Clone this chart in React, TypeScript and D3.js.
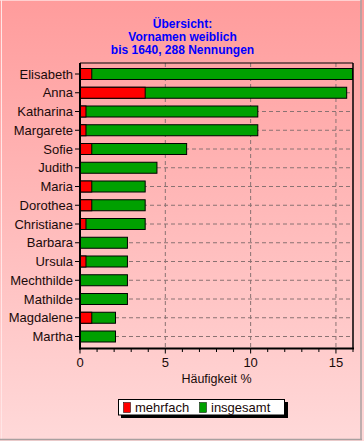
import React from "react";
import * as d3 from "d3";

const names = ["Elisabeth", "Anna", "Katharina", "Margarete", "Sofie", "Judith", "Maria", "Dorothea", "Christiane", "Barbara", "Ursula", "Mechthilde", "Mathilde", "Magdalene", "Martha"];
const insgesamt = [15.97, 15.63, 10.42, 10.42, 6.25, 4.51, 3.82, 3.82, 3.82, 2.78, 2.78, 2.78, 2.78, 2.08, 2.08];
const mehrfach = [0.69, 3.82, 0.35, 0.35, 0.69, 0, 0.69, 0.69, 0.35, 0, 0.35, 0, 0, 0.69, 0];
const majorTicks = [0, 5, 10, 15];
const minorTicks = d3.range(0, 17, 1);
const titleLines = ["Übersicht:", "Vornamen weiblich", "bis 1640, 288 Nennungen"];
const xTitle = "Häufigkeit %";
const legendItems = [{ label: "mehrfach", color: "#ff0000" }, { label: "insgesamt", color: "#00a000" }];

const W = 364, H = 441;
const L = 80, R = 353, T = 63, B = 348.5;
const FONT = "'Liberation Sans', Arial, sans-serif";

export default function App() {
  const x = d3.scaleLinear().domain([0, 16]).range([L, R]);
  const y = d3.scalePoint<string>().domain(names).range([74, 336.5]);
  const bh = 11;
  return (
    <div style={{ position: "absolute", left: 0, top: 0 }}>
      <svg width={W} height={H} style={{ display: "block" }}>
        <defs>
          <linearGradient id="bg" x1="0" y1="0" x2="0" y2="1">
            <stop offset="0" stopColor="#ff9c9c" />
            <stop offset="1" stopColor="#ffd9d9" />
          </linearGradient>
        </defs>
        <rect x={0} y={0} width={W} height={H} fill="url(#bg)" />
        <line x1={0} y1={0.5} x2={361} y2={0.5} stroke="#ffd0d0" />
        <line x1={1.5} y1={0} x2={1.5} y2={439} stroke="#ffe6e6" />
        <line x1={361} y1={0} x2={361} y2={440} stroke="#a8a0a0" strokeWidth={1.5} />
        <line x1={0} y1={439.5} x2={362} y2={439.5} stroke="#a8a0a0" strokeWidth={1.5} />

        {titleLines.map((t, i) => (
          <text key={t} x={182.5} y={28 + i * 13} textAnchor="middle" fontFamily={FONT} fontWeight="bold" fontSize={12} fill="#0000ff">{t}</text>
        ))}

        {/* grid */}
        {names.map((n) => (
          <line key={"gh" + n} x1={L} x2={R} y1={y(n)!} y2={y(n)!} stroke="#8a7272" strokeDasharray="4,3" strokeWidth={1} />
        ))}
        {majorTicks.filter((t) => t > 0).map((t) => (
          <line key={"gv" + t} x1={x(t)} x2={x(t)} y1={T} y2={B} stroke="#8a7272" strokeDasharray="4,3" strokeWidth={1} />
        ))}

        {/* bars */}
        {names.map((n, i) => (
          <g key={"b" + n}>
            <rect x={x(0)} y={y(n)! - bh / 2} width={x(insgesamt[i]) - x(0)} height={bh} fill="#00a000" stroke="#000" strokeWidth={1} />
            {mehrfach[i] > 0 && (
              <rect x={x(0)} y={y(n)! - bh / 2} width={x(mehrfach[i]) - x(0)} height={bh} fill="#ff0000" stroke="#000" strokeWidth={1} />
            )}
          </g>
        ))}

        {/* frame */}
        <line x1={L} x2={R} y1={T} y2={T} stroke="#000" strokeWidth={1} />
        <line x1={R} x2={R} y1={T} y2={B} stroke="#000" strokeWidth={1.5} />
        <line x1={L} x2={L} y1={T} y2={B + 1} stroke="#000" strokeWidth={2} />
        <line x1={L - 1} x2={R + 1} y1={B} y2={B} stroke="#000" strokeWidth={2} />

        {/* y axis */}
        {names.map((n) => (
          <g key={"yl" + n}>
            <line x1={L - 5} x2={L} y1={y(n)!} y2={y(n)!} stroke="#000" />
            <text x={73} y={y(n)! + 4.5} textAnchor="end" fontFamily={FONT} fontSize={13} fill="#1a0a0a">{n}</text>
          </g>
        ))}

        {/* x axis */}
        {minorTicks.map((t) => (
          <line key={"mt" + t} x1={x(t)} x2={x(t)} y1={B} y2={B + (t % 5 === 0 ? 5 : 3.5)} stroke="#000" />
        ))}
        {majorTicks.map((t) => (
          <text key={"xt" + t} x={x(t)} y={367} textAnchor="middle" fontFamily={FONT} fontSize={13} fill="#1a0a0a">{t}</text>
        ))}
        <text x={(L + R) / 2} y={383} textAnchor="middle" fontFamily={FONT} fontSize={12.5} fill="#1a0a0a">{xTitle}</text>

        {/* legend */}
        <rect x={121} y={402} width={167} height={16} fill="#000" />
        <rect x={118.5} y={399.5} width={166} height={15.5} fill="#fff" stroke="#000" />
        {legendItems.map((it, i) => {
          const lx = i === 0 ? 123.5 : 199.5;
          return (
            <g key={it.label}>
              <rect x={lx} y={402.5} width={7} height={10} fill={it.color} stroke="#000" strokeWidth={0.5} />
              <text x={lx + 11.5} y={411.5} fontFamily={FONT} fontSize={13} fill="#1a0a0a">{it.label}</text>
            </g>
          );
        })}
      </svg>
    </div>
  );
}
